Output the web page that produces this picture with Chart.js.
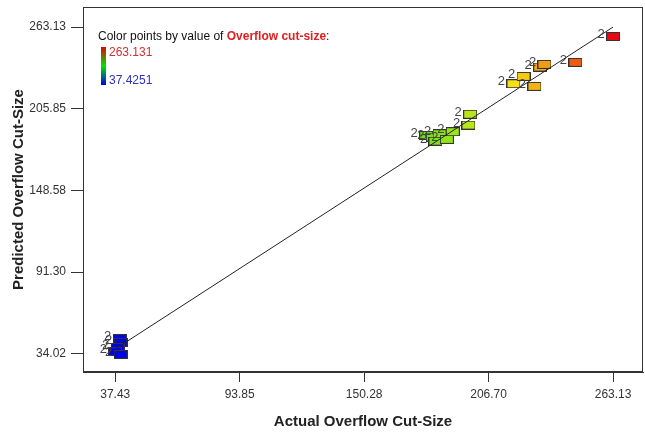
<!DOCTYPE html>
<html>
<head>
<meta charset="utf-8">
<script src="https://cdn.jsdelivr.net/npm/chart.js@4.4.1/dist/chart.umd.min.js"></script>
<style>
  html, body { margin: 0; padding: 0; background: #fff; }
  #wrap { width: 645px; height: 434px; }
</style>
</head>
<body>
<div id="wrap"><canvas id="fitChart" width="645" height="434"></canvas></div>
<script>
// Actual vs predicted overflow cut-size
const actualVals = [39.38, 39.83, 38.47, 37.43, 39.83,
  178.41, 181.40, 182.62, 184.44, 187.75, 190.47, 197.58, 198.36,
  217.98, 222.52, 227.50, 230.09, 232.04, 246.09, 263.13];
const predictedVals = [44.75, 41.95, 38.44, 35.63, 33.53,
  187.16, 185.97, 183.16, 188.35, 184.35, 189.76, 194.39, 202.02,
  223.43, 228.55, 221.54, 235.07, 236.97, 238.37, 256.5];
const pointLabels = actualVals.map(() => '2');

const xTicks = [37.43, 93.85, 150.28, 206.70, 263.13];
const yTicks = [34.02, 91.30, 148.58, 205.85, 263.13];
const colorMin = 37.4251;
const colorMax = 263.131;

// blue -> green -> yellow -> red, like the colour bar
const colorFor = (v) => {
    const t = Math.min(1, Math.max(0, (v - colorMin) / (colorMax - colorMin)));
    let r, g, b;
    if (t < 0.5) { const k = t / 0.5; r = 0; g = 215 * k; b = 230 * (1 - k); }
    else if (t < 0.78) { const k = (t - 0.5) / 0.28; r = 245 * k; g = 215 + 20 * k; b = 25; }
    else { const k = (t - 0.78) / 0.22; r = 245 - 15 * k; g = 235 * (1 - k) + 10; b = 20; }
    return `rgb(${Math.round(r)},${Math.round(g)},${Math.round(b)})`;
};

// little 14x9 boxes used as point markers
const makeBox = (fill) => {
    const c = document.createElement('canvas');
    c.width = 14; c.height = 9;
    const g = c.getContext('2d');
    g.fillStyle = fill;
    g.fillRect(0, 0, 14, 9);
    g.strokeStyle = '#333';
    g.lineWidth = 1;
    g.strokeRect(0.5, 0.5, 13, 8);
    return c;
};
const boxes = actualVals.map(v => makeBox(colorFor(v)));

const boxPlugin = {
    id: 'boxAndLegend',
    afterDatasetsDraw(chart) {
        const { ctx } = chart;
        // "2" labels beside each marker
        const meta = chart.getDatasetMeta(1);
        ctx.save();
        ctx.font = '13px Arial, "Liberation Sans", sans-serif';
        ctx.fillStyle = '#444';
        ctx.textAlign = 'center';
        ctx.textBaseline = 'middle';
        meta.data.forEach((pt, i) => {
            ctx.fillText(pointLabels[i], pt.x - 12, pt.y - 2);
        });
        ctx.restore();
    },
    afterDraw(chart) {
        const { ctx, chartArea: a } = chart;
        ctx.save();
        ctx.strokeStyle = '#333';
        ctx.lineWidth = 1;
        ctx.strokeRect(a.left + 0.5, a.top + 0.5, a.right - a.left - 1, a.bottom - a.top - 1);

        // colour legend
        const lx = a.left + 15, ly = a.top + 30;
        ctx.textBaseline = 'middle';
        ctx.textAlign = 'left';
        ctx.font = '12px Arial, "Liberation Sans", sans-serif';
        ctx.fillStyle = '#111';
        const t1 = 'Color points by value of ';
        ctx.fillText(t1, lx, ly);
        let w = ctx.measureText(t1).width;
        ctx.font = 'bold 12px Arial, "Liberation Sans", sans-serif';
        ctx.fillStyle = '#e02020';
        const t2 = 'Overflow cut-size';
        ctx.fillText(t2, lx + w, ly);
        w += ctx.measureText(t2).width;
        ctx.font = '12px Arial, "Liberation Sans", sans-serif';
        ctx.fillStyle = '#111';
        ctx.fillText(':', lx + w, ly);

        const gx = lx + 3, gy = ly + 10, gh = 38;
        const grad = ctx.createLinearGradient(0, gy, 0, gy + gh);
        grad.addColorStop(0, 'rgb(230,0,0)');
        grad.addColorStop(0.5, 'rgb(0,230,0)');
        grad.addColorStop(1, 'rgb(0,0,230)');
        ctx.fillStyle = grad;
        ctx.fillRect(gx, gy, 5, gh);
        ctx.fillStyle = '#d03030';
        ctx.fillText(colorMax.toFixed(3), gx + 8, gy + 6);
        ctx.fillStyle = '#3030c0';
        ctx.fillText(colorMin.toFixed(4), gx + 8, gy + gh - 4);
        ctx.restore();
    }
};

const ctx = document.getElementById('fitChart').getContext('2d');
const fitChart = new Chart(ctx, {
    type: 'scatter',
    data: {
        datasets: [{
            // perfect-fit line
            data: [{ x: colorMin, y: colorMin }, { x: colorMax, y: colorMax }],
            showLine: true,
            borderColor: '#222',
            borderWidth: 1,
            pointRadius: 0
        }, {
            data: actualVals.map((v, i) => ({ x: v, y: predictedVals[i] })),
            pointStyle: (c) => boxes[c.dataIndex],
            pointRadius: 7
        }]
    },
    options: {
        responsive: false,
        animation: false,
        layout: { autoPadding: false, padding: { top: 7, right: 2, left: 0, bottom: 0 } },
        plugins: { legend: { display: false }, tooltip: { enabled: false } },
        scales: {
            x: {
                min: 22.8, max: 276.7,
                afterBuildTicks: (s) => { s.ticks = xTicks.map(v => ({ value: v })); },
                afterFit: (s) => { s.height = 62; s.paddingLeft = 0; s.paddingRight = 0; },
                ticks: {
                    callback: (v) => Number(v).toFixed(2),
                    color: '#333',
                    font: { size: 12, family: 'Arial, "Liberation Sans", sans-serif' },
                    padding: 5,
                    maxRotation: 0
                },
                grid: { drawOnChartArea: false, tickLength: 10, color: '#333' },
                border: { color: '#333' },
                title: {
                    display: true,
                    text: 'Actual Overflow Cut-Size',
                    color: '#222',
                    font: { size: 15, weight: 'bold', family: 'Arial, "Liberation Sans", sans-serif' },
                    padding: { top: 4, bottom: 3 }
                }
            },
            y: {
                min: 21.3, max: 277.2,
                afterBuildTicks: (s) => { s.ticks = yTicks.map(v => ({ value: v })); },
                afterFit: (s) => { s.width = 83; s.paddingTop = 0; s.paddingBottom = 0; },
                ticks: {
                    callback: (v) => Number(v).toFixed(2),
                    color: '#333',
                    font: { size: 12, family: 'Arial, "Liberation Sans", sans-serif' },
                    padding: 5
                },
                grid: { drawOnChartArea: false, tickLength: 12, color: '#333' },
                border: { color: '#333' },
                title: {
                    display: true,
                    text: 'Predicted Overflow Cut-Size',
                    color: '#222',
                    font: { size: 15, weight: 'bold', family: 'Arial, "Liberation Sans", sans-serif' },
                    padding: { top: 10, bottom: 4 }
                }
            }
        }
    },
    plugins: [boxPlugin]
});
</script>
</body>
</html>
